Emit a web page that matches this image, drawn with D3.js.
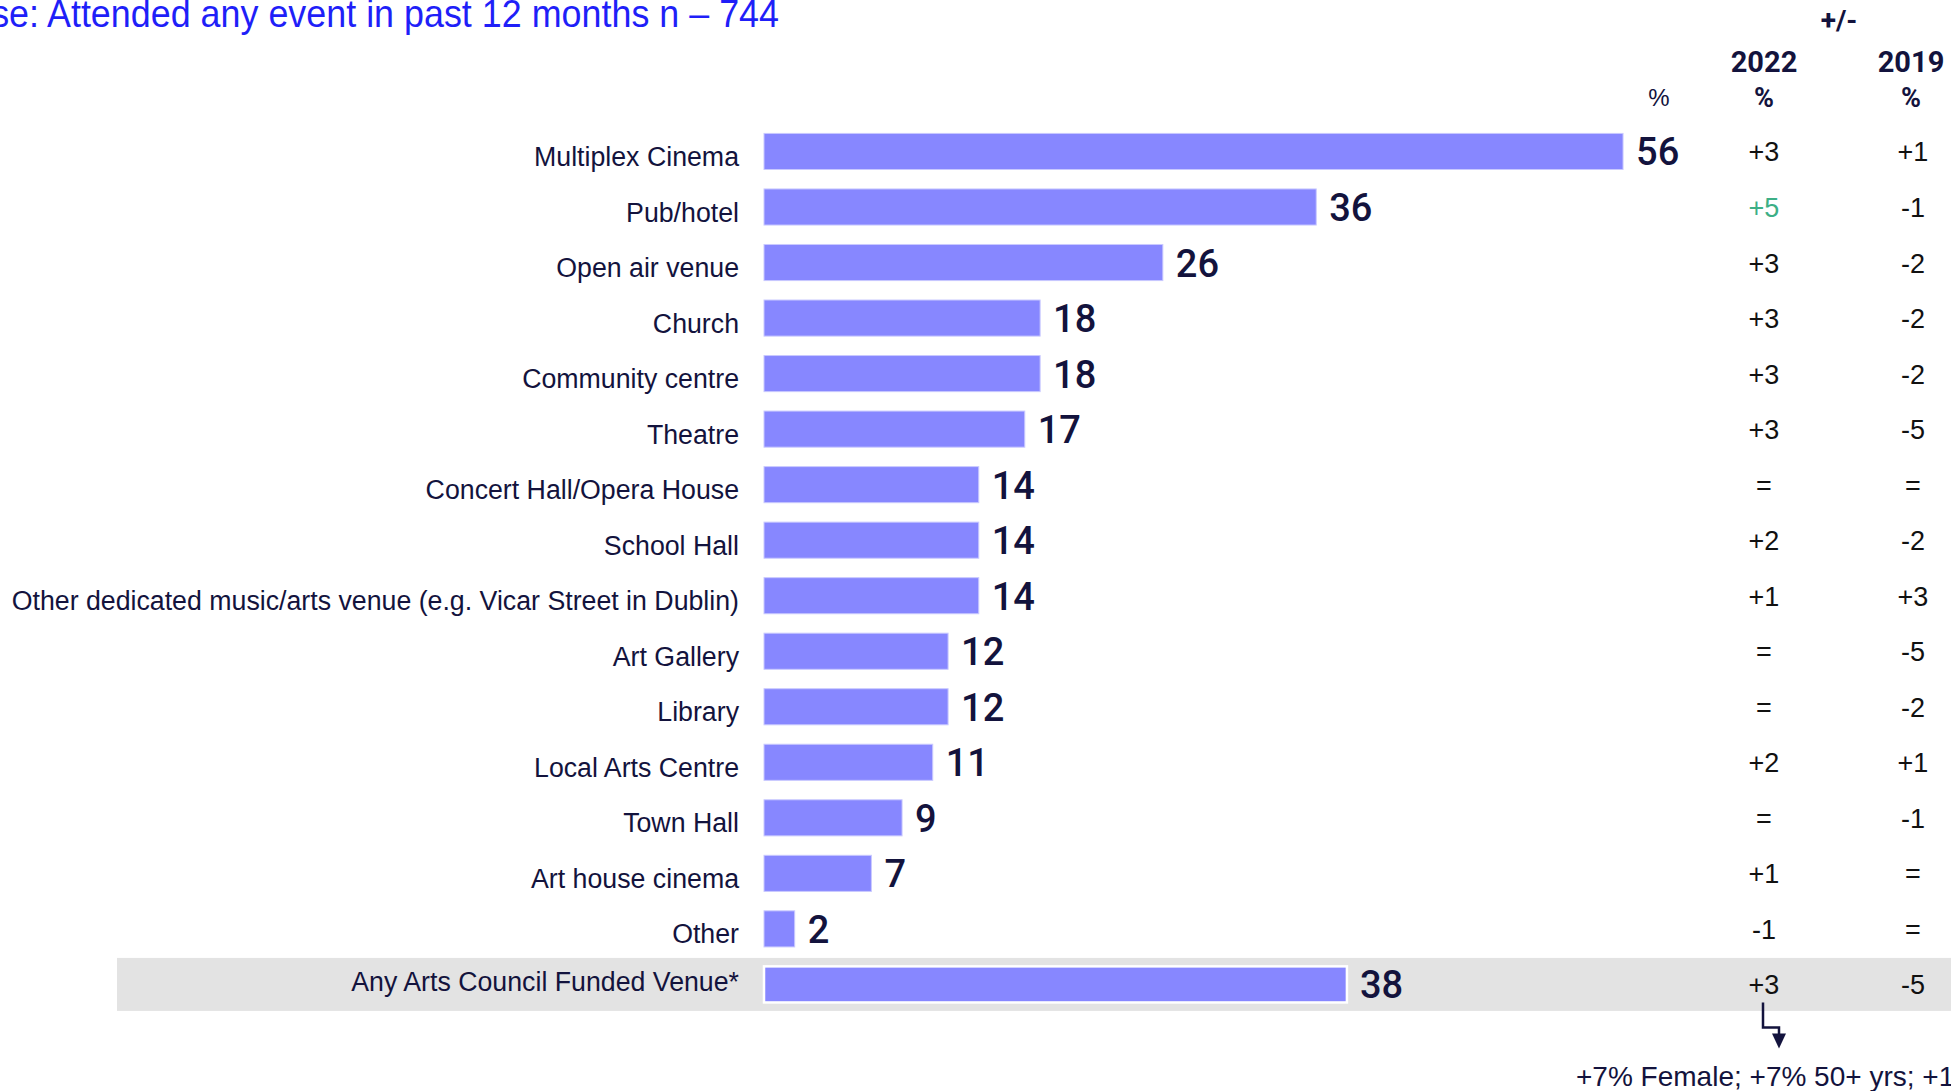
<!DOCTYPE html>
<html>
<head>
<meta charset="utf-8">
<script src="https://cdn.jsdelivr.net/npm/d3@7"></script>
<style>
  html, body { margin: 0; padding: 0; background: #ffffff; }
  svg { display: block; }
</style>
</head>
<body>
<div id="chart"></div>
<script>
// Venues attended in the past 12 months (%), with change vs 2022 and 2019
const categories = [
  "Multiplex Cinema",
  "Pub/hotel",
  "Open air venue",
  "Church",
  "Community centre",
  "Theatre",
  "Concert Hall/Opera House",
  "School Hall",
  "Other dedicated music/arts venue (e.g. Vicar Street in Dublin)",
  "Art Gallery",
  "Library",
  "Local Arts Centre",
  "Town Hall",
  "Art house cinema",
  "Other",
  "Any Arts Council Funded Venue*"
];
const values = [56, 36, 26, 18, 18, 17, 14, 14, 14, 12, 12, 11, 9, 7, 2, 38];
const change2022 = ["+3", "+5", "+3", "+3", "+3", "+3", "=", "+2", "+1", "=", "=", "+2", "=", "+1", "-1", "+3"];
const change2019 = ["+1", "-1", "-2", "-2", "-2", "-5", "=", "-2", "+3", "-5", "-2", "+1", "-1", "=", "=", "-5"];
const highlightCategory = "Any Arts Council Funded Venue*";
const significantUp = ["Pub/hotel|2022"];
const titleText = "Base: Attended any event in past 12 months n \u2013 744";
const footnoteText = "+7% Female; +7% 50+ yrs; +1";

const W = 1951, H = 1091;
const navy = "#13133d";
const barColor = "#8787ff";

const svg = d3.select("#chart").append("svg")
  .attr("width", W).attr("height", H)
  .attr("font-family", "'Liberation Sans', Arial, sans-serif");

const x = d3.scaleLinear().domain([0, 60]).range([764, 764 + 60 * 15.34]);
const y = d3.scaleBand().domain(categories)
  .range([123.7, 123.7 + 16 * 55.53])
  .paddingInner(0.35).paddingOuter(0.175);

const col2022 = 1764, col2019 = 1913;

// highlighted total row band
svg.append("rect")
  .attr("x", 117).attr("width", W - 117)
  .attr("y", y(highlightCategory) + y.bandwidth() / 2 - 26.5)
  .attr("height", 53)
  .attr("fill", "#e3e3e3");

// title (left-clipped by the page edge)
svg.append("text")
  .attr("transform", "translate(779,27) scale(0.92,1)")
  .attr("text-anchor", "end")
  .attr("font-size", 39)
  .attr("fill", "#1f1ff8")
  .text(titleText);

// column headers
svg.append("text").attr("x", 1839).attr("y", 30)
  .attr("text-anchor", "middle").attr("font-family", "Roboto, sans-serif")
  .attr("font-weight", 700).attr("font-size", 28).attr("fill", navy).text("+/-");
[[col2022, "2022"], [col2019 - 2, "2019"]].forEach(([cx, t]) => {
  svg.append("text").attr("x", cx).attr("y", 72)
    .attr("text-anchor", "middle").attr("font-family", "Roboto, sans-serif")
    .attr("font-weight", 700).attr("font-size", 29).attr("fill", navy).text(t);
  svg.append("text").attr("x", cx).attr("y", 107)
    .attr("text-anchor", "middle").attr("font-family", "Roboto, sans-serif")
    .attr("font-weight", 700).attr("font-size", 27).attr("fill", navy).text("%");
});
svg.append("text").attr("x", 1659).attr("y", 106)
  .attr("text-anchor", "middle").attr("font-size", 24).attr("fill", navy).text("%");

const rows = svg.append("g").selectAll("g.row")
  .data(categories.map((c, i) => ({ c, v: values[i], a: change2022[i], b: change2019[i] })))
  .join("g").attr("class", "row");

const cy = d => y(d.c) + y.bandwidth() / 2;

// category labels
rows.append("text")
  .attr("transform", d => `translate(739,${cy(d) + (d.c === highlightCategory ? 7 : 14.6)}) scale(0.955,1)`)
  .attr("text-anchor", "end")
  .attr("font-size", 28)
  .attr("fill", navy)
  .text(d => d.c);

// bars
rows.append("rect")
  .attr("x", x(0))
  .attr("y", d => y(d.c))
  .attr("width", d => x(d.v) - x(0))
  .attr("height", y.bandwidth())
  .attr("fill", barColor)
  .attr("stroke", d => d.c === highlightCategory ? "#ffffff" : "#c9c9ff")
  .attr("stroke-width", d => d.c === highlightCategory ? 2.5 : 1);

// value labels
rows.append("text")
  .attr("x", d => x(d.v) + 13)
  .attr("y", d => cy(d) + 14)
  .attr("font-family", "Roboto, sans-serif")
  .attr("font-weight", 500)
  .attr("font-size", 38)
  .attr("fill", navy)
  .text(d => d.v);

// change columns
rows.append("text")
  .attr("x", col2022).attr("y", d => cy(d) + 10)
  .attr("text-anchor", "middle").attr("font-size", 27)
  .attr("fill", d => significantUp.includes(d.c + "|2022") ? "#3daf86" : "#111111")
  .text(d => d.a);
rows.append("text")
  .attr("x", col2019).attr("y", d => cy(d) + 10)
  .attr("text-anchor", "middle").attr("font-size", 27)
  .attr("fill", "#111111")
  .text(d => d.b);

// elbow arrow from the total row's 2022 change to the footnote
const ay = cy({ c: highlightCategory });
svg.append("path")
  .attr("d", `M${col2022 - 1},${ay + 18} V${ay + 43} H${col2022 + 15} V${ay + 50}`)
  .attr("fill", "none").attr("stroke", navy).attr("stroke-width", 2.5);
svg.append("path")
  .attr("d", `M${col2022 + 8},${ay + 49} L${col2022 + 22},${ay + 49} L${col2022 + 15},${ay + 64} Z`)
  .attr("fill", navy);

svg.append("text")
  .attr("x", 1576).attr("y", 1086)
  .attr("font-size", 28)
  .attr("fill", navy)
  .text(footnoteText);
</script>
</body>
</html>
